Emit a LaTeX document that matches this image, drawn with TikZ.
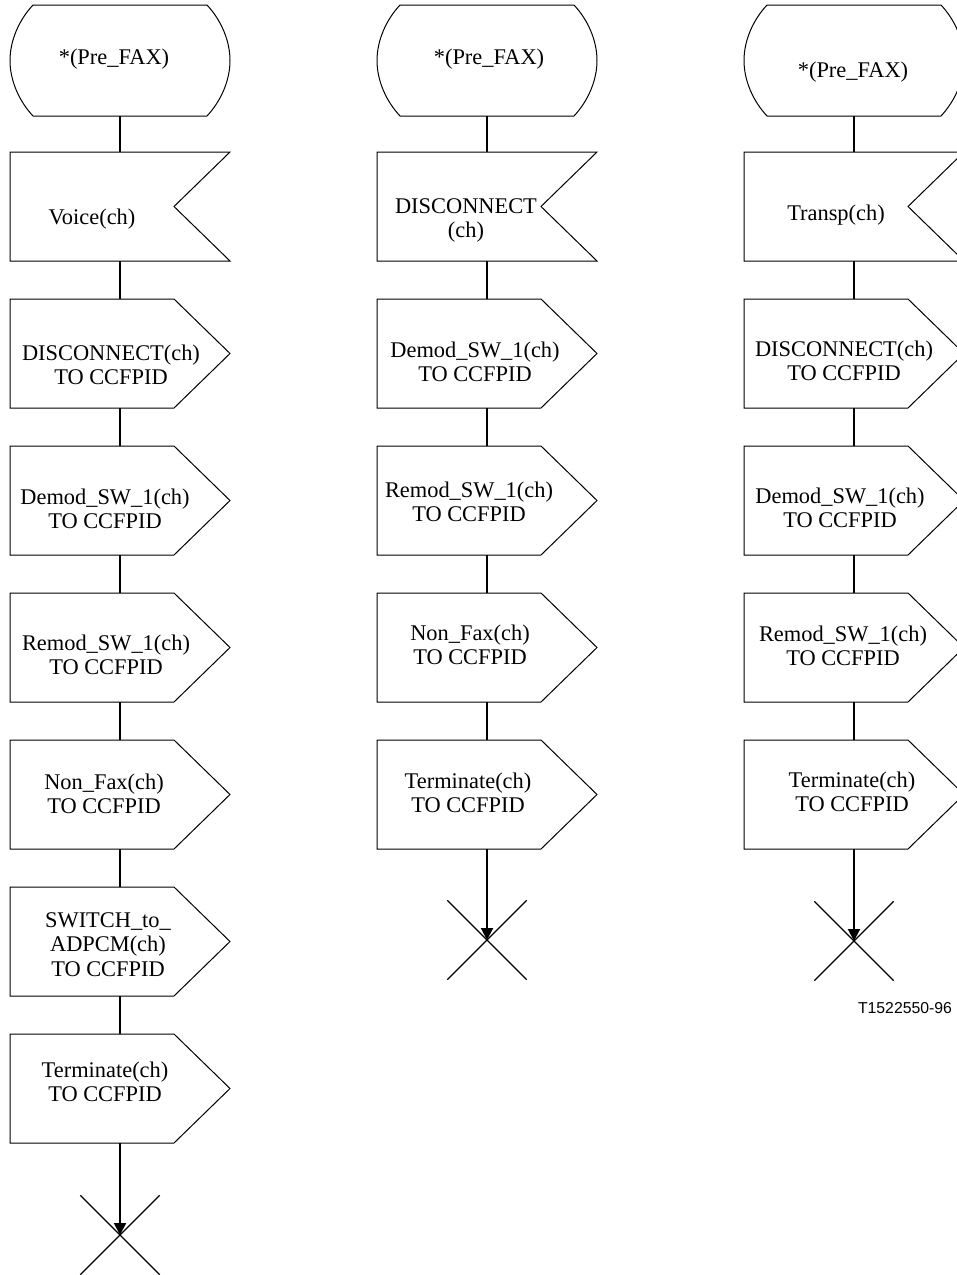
\documentclass[tikz,border=0pt]{standalone}
\usepackage{fontspec}
\setmainfont{Liberation Serif}
\newfontfamily\labelfont{Liberation Sans}
\usetikzlibrary{arrows.meta,shapes.misc}
\newcommand{\lns}[1]{\begin{tabular}[t]{@{}c@{}}#1\end{tabular}}
\tikzset{
  boxnode/.style={draw=none, rectangle, inner sep=0pt, minimum width=110pt, minimum height=54.5pt},
  statenode/.style={boxnode, minimum height=55.5pt},
  outline/.style={line width=0.5pt, line join=miter},
  conn/.style={line width=1pt},
  arr/.style={conn, -{Triangle[width=6pt,length=6pt]}},
  stopnode/.style={cross out, draw, line width=0.65pt, inner sep=0pt, minimum size=39pt},
  txt/.style={anchor=base, inner sep=0pt, font=\fontsize{11.2}{12.4}\selectfont},
  lbl/.style={inner sep=0pt, font=\labelfont\fontsize{7.9}{9}\selectfont}
}
\begin{document}
\begin{tikzpicture}[x=0.5pt,y=-0.5pt]
\useasboundingbox (0,0) rectangle (957,1275);
\clip (0,0) rectangle (957,1275);
% ---------- column 1
\node[statenode] (s1) at (120,60.5) {};
\node[boxnode] (i1) at (120,206.5) {};
\node[boxnode] (a1) at (120,353.5) {};
\node[boxnode] (b1) at (120,500.5) {};
\node[boxnode] (c1) at (120,647.5) {};
\node[boxnode] (d1) at (120,794.5) {};
\node[boxnode] (e1) at (120,941.5) {};
\node[boxnode] (f1) at (120,1088.5) {};
\node[stopnode] (x1) at (120,1235) {};
% ---------- column 2
\node[statenode] (s2) at (487,60.5) {};
\node[boxnode] (i2) at (487,206.5) {};
\node[boxnode] (a2) at (487,353.5) {};
\node[boxnode] (b2) at (487,500.5) {};
\node[boxnode] (c2) at (487,647.5) {};
\node[boxnode] (d2) at (487,794.5) {};
\node[stopnode] (x2) at (487,940) {};
% ---------- column 3
\node[statenode] (s3) at (854,60.5) {};
\node[boxnode] (i3) at (854,206.5) {};
\node[boxnode] (a3) at (854,353.5) {};
\node[boxnode] (b3) at (854,500.5) {};
\node[boxnode] (c3) at (854,647.5) {};
\node[boxnode] (d3) at (854,794.5) {};
\node[stopnode] (x3) at (854,941) {};
% ---------- outlines
\foreach \n in {s1,s2,s3}
  \draw[outline,shift={(\n.center)}] (-87,-55.5) -- (87,-55.5)
    .. controls (101,-40.5) and (110,-20) .. (110,0)
    .. controls (110,20) and (101,40.5) .. (87,55.5) -- (-87,55.5)
    .. controls (-101,40.5) and (-110,20) .. (-110,0)
    .. controls (-110,-20) and (-101,-40.5) .. (-87,-55.5) -- cycle;
\foreach \n in {i1,i2,i3}
  \draw[outline,shift={(\n.center)}] (-110,-54.5) -- (110,-54.5) -- (54,0) -- (110,54.5) -- (-110,54.5) -- cycle;
\foreach \n in {a1,b1,c1,d1,e1,f1,a2,b2,c2,d2,a3,b3,c3,d3}
  \draw[outline,shift={(\n.center)}] (-110,-54.5) -- (54,-54.5) -- (110,0) -- (54,54.5) -- (-110,54.5) -- cycle;
% ---------- connectors
\draw[conn] (s1.south) -- (i1.north);
\draw[conn] (i1.south) -- (a1.north);
\draw[conn] (a1.south) -- (b1.north);
\draw[conn] (b1.south) -- (c1.north);
\draw[conn] (c1.south) -- (d1.north);
\draw[conn] (d1.south) -- (e1.north);
\draw[conn] (e1.south) -- (f1.north);
\draw[arr] (f1.south) -- (x1.center);
\draw[conn] (s2.south) -- (i2.north);
\draw[conn] (i2.south) -- (a2.north);
\draw[conn] (a2.south) -- (b2.north);
\draw[conn] (b2.south) -- (c2.north);
\draw[conn] (c2.south) -- (d2.north);
\draw[arr] (d2.south) -- (x2.center);
\draw[conn] (s3.south) -- (i3.north);
\draw[conn] (i3.south) -- (a3.north);
\draw[conn] (a3.south) -- (b3.north);
\draw[conn] (b3.south) -- (c3.north);
\draw[conn] (c3.south) -- (d3.north);
\draw[arr] (d3.south) -- (x3.center);
% ---------- texts column 1
\node[txt] (ts1) at (114,64) {*(Pre\_FAX)};
\node[txt] (ti1) at (92,224) {Voice(ch)};
\node[txt] (ta1) at (111,360) {\lns{DISCONNECT(ch)\\TO CCFPID}};
\node[txt] (tb1) at (105,504) {\lns{Demod\_SW\_1(ch)\\TO CCFPID}};
\node[txt] (tc1) at (106,650) {\lns{Remod\_SW\_1(ch)\\TO CCFPID}};
\node[txt] (td1) at (104,789) {\lns{Non\_Fax(ch)\\TO CCFPID}};
\node[txt] (te1) at (108,927) {\lns{SWITCH\_to\_\\ADPCM(ch)\\TO CCFPID}};
\node[txt] (tf1) at (105,1077) {\lns{Terminate(ch)\\TO CCFPID}};
% ---------- texts column 2
\node[txt] (ts2) at (489,64) {*(Pre\_FAX)};
\node[txt] (ti2) at (466,213) {\lns{DISCONNECT\\(ch)}};
\node[txt] (ta2) at (475,357) {\lns{Demod\_SW\_1(ch)\\TO CCFPID}};
\node[txt] (tb2) at (469,497) {\lns{Remod\_SW\_1(ch)\\TO CCFPID}};
\node[txt] (tc2) at (470,640) {\lns{Non\_Fax(ch)\\TO CCFPID}};
\node[txt] (td2) at (468,788) {\lns{Terminate(ch)\\TO CCFPID}};
% ---------- texts column 3
\node[txt] (ts3) at (853,77) {*(Pre\_FAX)};
\node[txt] (ti3) at (836,220) {Transp(ch)};
\node[txt] (ta3) at (844,356) {\lns{DISCONNECT(ch)\\TO CCFPID}};
\node[txt] (tb3) at (840,503) {\lns{Demod\_SW\_1(ch)\\TO CCFPID}};
\node[txt] (tc3) at (843,641) {\lns{Remod\_SW\_1(ch)\\TO CCFPID}};
\node[txt] (td3) at (852,787) {\lns{Terminate(ch)\\TO CCFPID}};
% ---------- figure label
\node[lbl] (fig) at (905,1008) {T1522550-96};
\end{tikzpicture}
\end{document}
